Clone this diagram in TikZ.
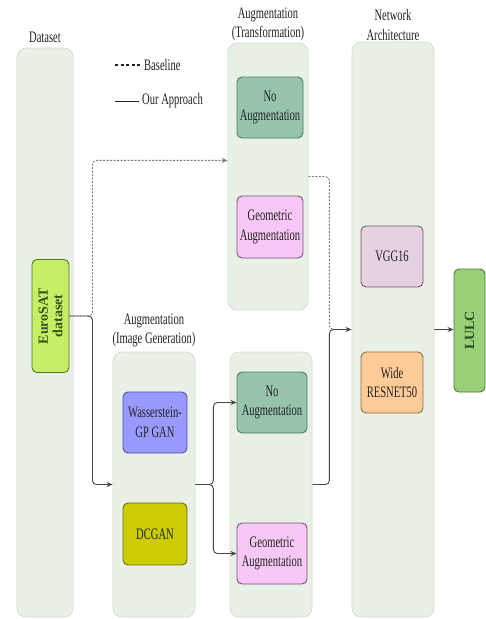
\documentclass[tikz,border=0pt]{standalone}
\usepackage{fontspec}
\setmainfont{Liberation Serif}[FakeStretch=0.66]
\newfontfamily\aeupright{Liberation Serif}
\usetikzlibrary{arrows.meta,calc,positioning}
\definecolor{aeInk}{HTML}{222222}
\definecolor{aeLine}{HTML}{454545}
\definecolor{aeDash}{HTML}{7A7A7A}
\definecolor{aePanel}{HTML}{E9F1E6}
\definecolor{aePanelLine}{HTML}{D6E0D2}
\definecolor{aeNoAug}{HTML}{96C4AC}
\definecolor{aeNoAugLine}{HTML}{4F7A63}
\definecolor{aeGeo}{HTML}{F7C8F5}
\definecolor{aeGeoLine}{HTML}{7A4F78}
\definecolor{aeVgg}{HTML}{E5D1E0}
\definecolor{aeVggLine}{HTML}{735868}
\definecolor{aeWide}{HTML}{FFCC99}
\definecolor{aeWideLine}{HTML}{8C6B45}
\definecolor{aeWgan}{HTML}{9999FF}
\definecolor{aeWganLine}{HTML}{4F4FA8}
\definecolor{aeDcgan}{HTML}{CCCC00}
\definecolor{aeDcganLine}{HTML}{6E6E14}
\definecolor{aeEuro}{HTML}{C6EE66}
\definecolor{aeEuroLine}{HTML}{4E7A22}
\definecolor{aeLulc}{HTML}{97D077}
\definecolor{aeLulcLine}{HTML}{4D7A38}
\tikzset{
  ae panel/.style={draw=aePanelLine, fill=aePanel, line width=.8pt, rounded corners=9pt},
  ae box/.style={line width=.9pt, rounded corners=5pt, align=center, inner sep=0pt, text=aeInk},
  ae rotated/.style={
    ae box,
    rotate=90,
    font=\aeupright\bfseries\fontsize{14}{14.5}\selectfont
  },
  ae title/.style={align=center, inner sep=0pt, text=aeInk},
  ae link/.style={draw=aeLine, line width=.9pt, rounded corners=4pt},
  ae base/.style={draw=aeDash, line width=.9pt, rounded corners=4pt, dash pattern=on 2pt off 1.5pt},
  ae arrow/.style={-{Stealth[length=6pt,width=5pt]}},
  ae legend/.style={text=aeInk, inner sep=3pt}
}

\begin{document}
\begin{tikzpicture}[x=1pt,y=-1pt,font=\fontsize{16}{19.5}\selectfont]
  \fill[white] (0,0) rectangle (486,619);
  \useasboundingbox (0,0) rectangle (486,619);

  % columns
  \node[ae panel, minimum width=56pt, minimum height=569pt] (dsPanel) at (45,332.5) {};
  \node[ae panel, minimum width=80pt, minimum height=267pt] (transPanel) at (268,176.5) {};
  \node[ae panel, minimum width=82pt, minimum height=265pt] (genPanel) at (154,484.5) {};
  \node[ae panel, minimum width=82pt, minimum height=265pt] (augPanel) at (271,484.5) {};
  \node[ae panel, minimum width=82pt, minimum height=575pt] (netPanel) at (393,329.5) {};

  \node[ae title, above=5pt of dsPanel] (dsTitle) {Dataset};
  \node[ae title, above=1pt of transPanel] (transTitle) {Augmentation\\(Transformation)};
  \node[ae title, above=4pt of genPanel] (genTitle) {Augmentation\\(Image Generation)};
  \node[ae title, above=1pt of netPanel] (netTitle) {Network\\Architecture};

  % boxes (rotated ones: south is the right side, north the left side)
  \node[ae rotated, fill=aeEuro, draw=aeEuroLine, text=aeEuroLine!70!black,
    minimum width=113pt, minimum height=37pt] (euro) at (50.5,316) {EuroSAT\\dataset};
  \node[ae box, fill=aeNoAug, draw=aeNoAugLine, minimum width=66pt, minimum height=61pt] (noAugT) at (270,107.5) {No\\Augmentation};
  \node[ae box, fill=aeGeo, draw=aeGeoLine, minimum width=66pt, minimum height=62pt] (geoAugT) at (270,227) {Geometric\\Augmentation};
  \node[ae box, fill=aeWgan, draw=aeWganLine, minimum width=64pt, minimum height=61pt] (wgan) at (155,422.5) {Wasserstein-\\GP GAN};
  \node[ae box, fill=aeDcgan, draw=aeDcganLine, minimum width=64pt, minimum height=62pt] (dcgan) at (155,534) {DCGAN};
  \node[ae box, fill=aeNoAug, draw=aeNoAugLine, minimum width=70pt, minimum height=61pt] (noAugG) at (272,402.5) {No\\Augmentation};
  \node[ae box, fill=aeGeo, draw=aeGeoLine, minimum width=70pt, minimum height=61pt] (geoAugG) at (272,553.5) {Geometric\\Augmentation};
  \node[ae box, fill=aeVgg, draw=aeVggLine, minimum width=62pt, minimum height=61pt] (vgg) at (392,256.5) {VGG16};
  \node[ae box, fill=aeWide, draw=aeWideLine, minimum width=62pt, minimum height=61pt] (wide) at (392,382.5) {Wide\\RESNET50};
  \node[ae rotated, fill=aeLulc, draw=aeLulcLine, text=aeLulcLine!60!black,
    minimum width=123pt, minimum height=31pt] (lulc) at (469.5,330.5) {LULC};

  % legend
  \coordinate (baseStart) at (115,65);
  \coordinate (oursStart) at (115,101);
  \node[ae legend, anchor=west] (baseLabel) at (141,65) {Baseline};
  \node[ae legend, anchor=west] (oursLabel) at (139,101) {Our Approach};
  \draw[draw=aeInk, line width=1.2pt, dash pattern=on 3pt off 2.5pt] (baseStart) -- (baseLabel.west);
  \draw[draw=aeInk, line width=.9pt] (oursStart) -- (oursLabel.west);

  % connectors
  \coordinate (fork) at ($(euro.south)+(23,0)$);
  \coordinate (transIn) at ($(transPanel.north west)!.44!(transPanel.south west)$);
  \coordinate (genFork) at ($(genPanel.east)+(18,0)$);
  \coordinate (augFork) at ($(augPanel.east)+(17,0)$);

  \draw[ae base, ae arrow] (euro.south) -- (fork) |- (transIn);
  \draw[ae base] (transPanel.east) -- (transPanel.east -| augFork) |- (netPanel.west);
  \draw[ae link, ae arrow] (euro.south) -- (fork) |- (genPanel.west);
  \draw[ae link, ae arrow] (genPanel.east) -- (genFork) |- (noAugG.west);
  \draw[ae link, ae arrow] (genPanel.east) -- (genFork) |- (geoAugG.west);
  \draw[ae link, ae arrow] (augPanel.east) -- (augFork) |- (netPanel.west);
  \draw[ae link, ae arrow] (netPanel.east) -- (netPanel.east -| lulc.north);
\end{tikzpicture}
\end{document}
